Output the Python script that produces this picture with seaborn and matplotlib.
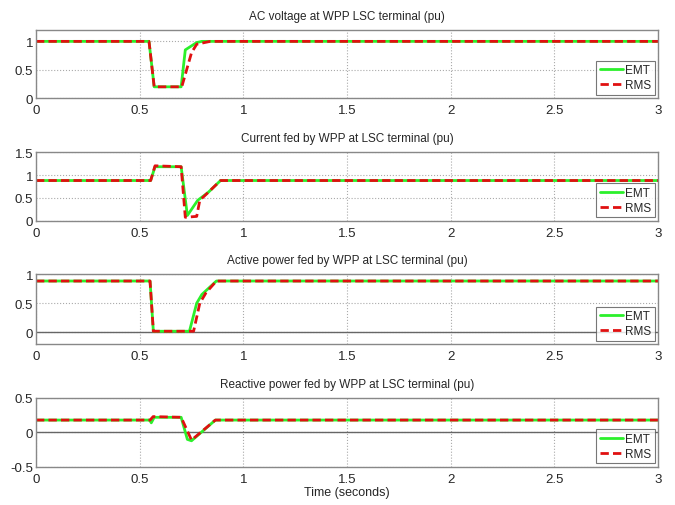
import numpy as np
import pandas as pd
import matplotlib
matplotlib.use("Agg")
import matplotlib.pyplot as plt
import seaborn as sns

# ---- data ----
v_emt_t = [0.0, 0.545, 0.57, 0.70, 0.72, 0.775, 0.80, 3.0]
v_emt_y = [1.0, 1.0, 0.2, 0.2, 0.85, 0.98, 1.0, 1.0]
v_rms_t = [0.0, 0.545, 0.57, 0.703, 0.75, 0.775, 0.84, 3.0]
v_rms_y = [1.0, 1.0, 0.2, 0.2, 0.8, 0.95, 1.0, 1.0]

i_emt_t = [0.0, 0.553, 0.574, 0.70, 0.73, 0.78, 0.83, 0.89, 3.0]
i_emt_y = [0.88, 0.88, 1.18, 1.18, 0.12, 0.45, 0.62, 0.88, 0.88]
i_rms_t = [0.0, 0.553, 0.574, 0.70, 0.72, 0.775, 0.79, 0.83, 0.89, 3.0]
i_rms_y = [0.88, 0.88, 1.2, 1.18, 0.08, 0.1, 0.45, 0.62, 0.88, 0.88]

p_emt_t = [0.0, 0.55, 0.566, 0.74, 0.775, 0.80, 0.87, 3.0]
p_emt_y = [0.88, 0.88, 0.02, 0.02, 0.5, 0.65, 0.88, 0.88]
p_rms_t = [0.0, 0.55, 0.566, 0.76, 0.79, 0.82, 0.87, 3.0]
p_rms_y = [0.88, 0.88, 0.02, 0.02, 0.5, 0.68, 0.88, 0.88]

q_emt_t = [0.0, 0.548, 0.556, 0.57, 0.70, 0.73, 0.75, 0.865, 3.0]
q_emt_y = [0.18, 0.18, 0.14, 0.22, 0.22, -0.10, -0.12, 0.18, 0.18]
q_rms_t = [0.0, 0.55, 0.565, 0.70, 0.75, 0.865, 3.0]
q_rms_y = [0.18, 0.18, 0.23, 0.22, -0.11, 0.18, 0.18]

titles = [
    "AC voltage at WPP LSC terminal (pu)",
    "Current fed by WPP at LSC terminal (pu)",
    "Active power fed by WPP at LSC terminal (pu)",
    "Reactive power fed by WPP at LSC terminal (pu)",
]
ylims = [(0, 1.2), (0, 1.5), (-0.2, 1.0), (-0.5, 0.5)]
yticks = [[0, 0.5, 1], [0, 0.5, 1, 1.5], [0, 0.5, 1], [-0.5, 0, 0.5]]
yticklabels = [["0", "0.5", "1"], ["0", "0.5", "1", "1.5"],
               ["0", "0.5", "1"], ["-0.5", "0", "0.5"]]
xticks = [0, 0.5, 1, 1.5, 2, 2.5, 3]
xticklabels = ["0", "0.5", "1", "1.5", "2", "2.5", "3"]
zero_line = [False, False, True, True]

series = [
    (v_emt_t, v_emt_y, v_rms_t, v_rms_y),
    (i_emt_t, i_emt_y, i_rms_t, i_rms_y),
    (p_emt_t, p_emt_y, p_rms_t, p_rms_y),
    (q_emt_t, q_emt_y, q_rms_t, q_rms_y),
]

sns.set_style("white")
plt.rcParams["font.family"] = ["Liberation Sans", "DejaVu Sans"]

fig = plt.figure(figsize=(6.75, 5.06), dpi=100)
positions = [
    (0.0533, 0.804, 0.9217, 0.1347),
    (0.0533, 0.5613, 0.9217, 0.1363),
    (0.0533, 0.318, 0.9217, 0.1385),
    (0.0533, 0.0751, 0.9217, 0.1364),
]

palette = {"EMT": "#2bf02b", "RMS": "#e01010"}

for k, (et, ey, rt, ry) in enumerate(series):
    ax = fig.add_axes(positions[k])
    df = pd.concat([
        pd.DataFrame({"t": et, "y": ey, "model": "EMT"}),
        pd.DataFrame({"t": rt, "y": ry, "model": "RMS"}),
    ], ignore_index=True)
    sns.lineplot(data=df, x="t", y="y", hue="model", style="model",
                 palette=palette, dashes={"EMT": "", "RMS": (3, 1.5)},
                 linewidth=2, ax=ax, estimator=None, sort=False)
    if zero_line[k]:
        ax.axhline(0, color="#666666", lw=1, zorder=1)
    ax.set_xlim(0, 3)
    ax.set_ylim(*ylims[k])
    ax.set_xticks(xticks)
    ax.set_xticklabels(xticklabels)
    ax.set_yticks(yticks[k])
    ax.set_yticklabels(yticklabels[k])
    ax.grid(True, linestyle=":", color="#aaaaaa", linewidth=0.8)
    ax.tick_params(axis="x", direction="in", length=3, labelsize=9.5, pad=4,
                   color="#777777")
    ax.tick_params(axis="y", direction="in", length=3, labelsize=9.5, pad=2,
                   color="#777777")
    for s in ax.spines.values():
        s.set_color("#888888")
        s.set_linewidth(1)
    ax.set_xlabel("")
    ax.set_ylabel("")
    ax.set_title(titles[k], fontsize=8.5, pad=8)
    leg = ax.legend(loc="lower right", fontsize=8.5, handlelength=2.0,
                    handletextpad=0.15, borderpad=0.3, labelspacing=0.25,
                    frameon=True, fancybox=False, borderaxespad=0.3)
    leg.get_frame().set_edgecolor("#555555")
    leg.get_frame().set_linewidth(0.8)
    if k == 3:
        ax.set_xlabel("Time (seconds)", fontsize=9, labelpad=1)

fig.savefig("out.png", dpi=100)
